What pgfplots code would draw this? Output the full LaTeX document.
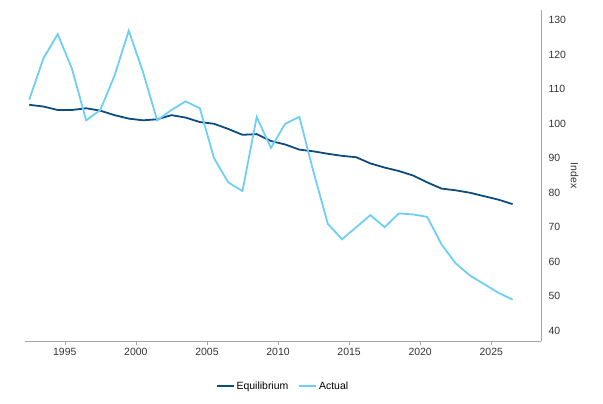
\documentclass[border=0pt]{standalone}
\usepackage{pgfplots}
\pgfplotsset{compat=1.18}
\usepackage{fontspec}
\setmainfont{Liberation Sans}
\definecolor{eq}{HTML}{0E4C7E}
\definecolor{ac}{HTML}{6DCFF6}
\begin{document}
\begin{tikzpicture}
\path[use as bounding box] (-25bp,-63bp) rectangle (578bp,341bp);
\begin{axis}[
  at={(0,0)}, anchor=origin,
  width=516bp, height=331bp, scale only axis,
  /pgf/number format/assume math mode=true,
  xmin=1992.2, xmax=2028.5, ymin=37, ymax=133,
  axis y line*=right, axis x line*=bottom,
  axis line style={gray!70},
  xtick={1995,2000,...,2025}, ytick={40,50,...,130},
  xticklabel style={/pgf/number format/1000 sep={}},
  tick align=outside, major tick length=4pt,
  tick style={gray!70},
  ytick style={draw=none},
  ylabel={Index}, ylabel style={rotate=180, yshift=-2pt},
  tick label style={font=\fontsize{10.5}{12}\selectfont, text=black!80},
  label style={font=\fontsize{10.5}{12}\selectfont, text=black!80},
  legend style={at={(0.5,-0.11)}, anchor=north, draw=none, legend columns=2, font=\fontsize{10.5}{12}\selectfont, /tikz/every even column/.append style={column sep=8pt}},
  legend cell align=left,
]
\addplot[eq, line width=1.8pt, mark=none] coordinates {
(1992.5,105.5)(1993.5,105)(1994.5,104)(1995.5,104)(1996.5,104.5)(1997.5,103.8)(1998.5,102.5)(1999.5,101.5)(2000.5,101)(2001.5,101.3)(2002.5,102.5)(2003.5,101.8)(2004.5,100.5)(2005.5,100)(2006.5,98.5)(2007.5,96.8)(2008.5,97)(2009.5,95)(2010.5,94)(2011.5,92.5)(2012.5,92)(2013.5,91.3)(2014.5,90.7)(2015.5,90.3)(2016.5,88.5)(2017.5,87.3)(2018.5,86.3)(2019.5,85)(2020.5,83)(2021.5,81.2)(2022.5,80.7)(2023.5,80)(2024.5,79)(2025.5,78)(2026.5,76.7)};
\addlegendentry{Equilibrium}
\addplot[ac, line width=1.8pt, mark=none] coordinates {
(1992.5,107)(1993.5,119)(1994.5,126)(1995.5,116)(1996.5,101)(1997.5,104)(1998.5,114)(1999.5,127)(2000.5,115)(2001.5,101)(2002.5,104)(2003.5,106.5)(2004.5,104.5)(2005.5,90)(2006.5,83)(2007.5,80.5)(2008.5,102)(2009.5,93)(2010.5,100)(2011.5,102)(2012.5,86)(2013.5,71)(2014.5,66.5)(2015.5,70)(2016.5,73.5)(2017.5,70)(2018.5,74)(2019.5,73.7)(2020.5,73)(2021.5,65)(2022.5,59.5)(2023.5,56)(2024.5,53.5)(2025.5,51)(2026.5,49)};
\addlegendentry{Actual}
\end{axis}
\end{tikzpicture}
\end{document}
